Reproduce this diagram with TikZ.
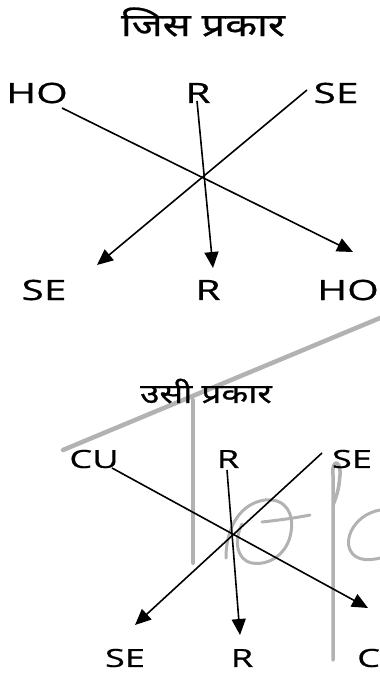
\documentclass[tikz,border=0pt]{standalone}
\usepackage{fontspec}
\setmainfont{Open Sans}
\newfontfamily\lab[FakeStretch=1.45,FakeBold=0.6]{Open Sans}
\newfontfamily\deva[Script=Devanagari,FakeStretch=1.3,FakeBold=0.8]{Noto Sans}
\usetikzlibrary{arrows.meta}
\begin{document}
\begin{tikzpicture}[x=1pt,y=-1pt,
  lbl/.style={inner sep=0pt,font=\lab\fontsize{28}{30}\selectfont},
  lbls/.style={inner sep=0pt,font=\lab\fontsize{25}{27}\selectfont},
  ttl/.style={inner sep=0pt},
  ray/.style={line width=1.6pt,-{Triangle[length=16pt,width=14pt]}},
  scrib/.style={draw=black!30,line width=3pt,line cap=round,line join=round}]
\useasboundingbox (0,0) rectangle (380,675);
% background scribbles
\draw[scrib,line width=4.5pt] (63,450) -- (380,318);
\draw[scrib,line width=4pt] (193,400) -- (193,563);
\draw[scrib,line width=3.5pt] (333,660) -- (333,475) .. controls (331,460) and (341,458) .. (340,475) .. controls (339,490) and (336,498) .. (333,505);
\draw[scrib] (380,510) .. controls (352,515) and (340,545) .. (355,556) .. controls (362,561) and (372,560) .. (380,558);
\draw[scrib] (226,558) .. controls (226,525) and (242,503) .. (265,500) .. controls (287,498) and (294,515) .. (291,532) .. controls (288,553) and (270,566) .. (252,563) .. controls (236,560) and (234,540) .. (242,524);
\draw[scrib] (262,522) .. controls (280,520) and (295,518) .. (310,515);
% top diagram
\node[ttl,font=\deva\fontsize{32}{34}\selectfont] (t1) at (203,22) {जिस प्रकार};
\node[lbl] (ho1) at (37,93) {HO};
\node[lbl] (r1) at (198,93) {R};
\node[lbl] (se1) at (336,93) {SE};
\node[lbl] (se1b) at (44,290) {SE};
\node[lbl] (r1b) at (208,290) {R};
\node[lbl] (ho1b) at (348,290) {HO};
\coordinate (a1) at (62,108);
\coordinate (a2) at (353,252);
\coordinate (b1) at (197,101);
\coordinate (b2) at (213,268);
\coordinate (c1) at (307,90);
\coordinate (c2) at (97,265);
\draw[ray] (a1) -- (a2);
\draw[ray] (b1) -- (b2);
\draw[ray] (c1) -- (c2);
% bottom diagram
\node[ttl,font=\deva\fontsize{27}{29}\selectfont] (t2) at (206,391) {उसी प्रकार};
\node[lbls] (cu2) at (94,459) {CU};
\node[lbls] (r2) at (228,459) {R};
\node[lbls] (se2) at (352,459) {SE};
\node[lbls] (se2b) at (125,658) {SE};
\node[lbls] (r2b) at (242,658) {R};
\node[lbls,anchor=west] (c2b) at (357,658) {C};
\coordinate (d1) at (112,468);
\coordinate (d2) at (368,608);
\coordinate (e1) at (227,470);
\coordinate (e2) at (240,635);
\coordinate (f1) at (322,453);
\coordinate (f2) at (135,625);
\draw[ray] (d1) -- (d2);
\draw[ray] (e1) -- (e2);
\draw[ray] (f1) -- (f2);
\end{tikzpicture}
\end{document}
